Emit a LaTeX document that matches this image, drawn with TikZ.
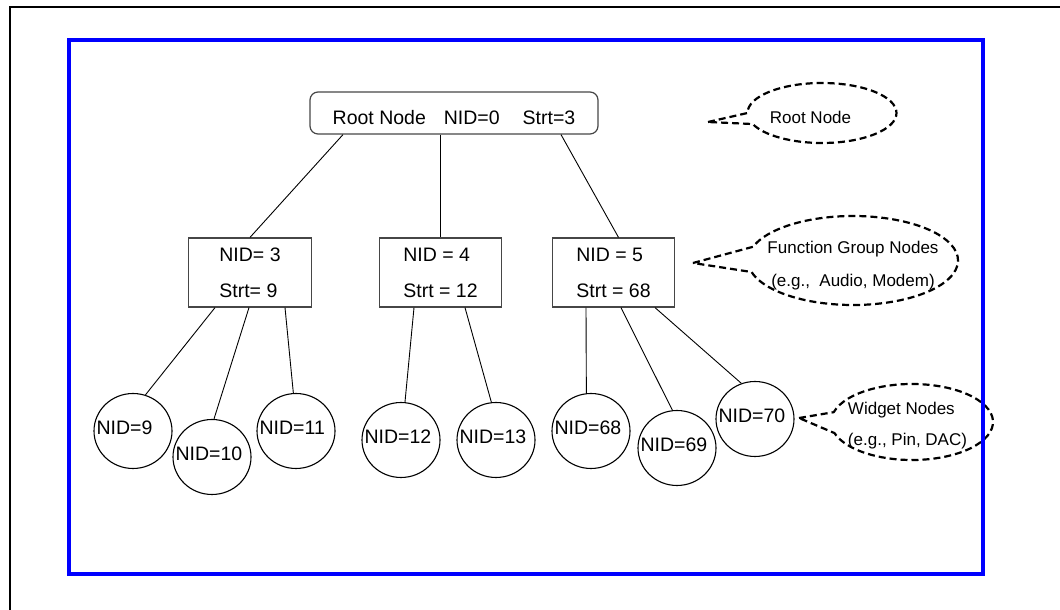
\documentclass[tikz,border=0pt]{standalone}
\usepackage{fontspec}
\setmainfont{Liberation Sans}
\usetikzlibrary{shapes.geometric}
\definecolor{frameblue}{RGB}{0,0,255}
\definecolor{boxgray}{RGB}{70,70,70}
\begin{document}
\begin{tikzpicture}[x=1pt,y=1pt,
  conn/.style={draw=black, line width=0.9pt},
  fbox/.style={draw=boxgray, line width=1.2pt, minimum width=122.5pt, minimum height=69pt, align=left, inner sep=0pt, font=\fontsize{19.5}{36}\selectfont},
  rootbox/.style={draw=boxgray, line width=1.2pt, rounded corners=8pt, minimum width=288pt, minimum height=42pt, inner sep=0pt, font=\fontsize{19.5}{24}\selectfont, text height=24pt, text depth=0pt},
  wid/.style={ellipse, draw=black, line width=1.1pt, minimum width=78pt, minimum height=75pt, inner sep=0pt},
  widtext/.style={anchor=west, inner sep=0pt, xshift=3pt, yshift=3pt, font=\fontsize{19.5}{24}\selectfont},
  callout/.style={draw=black, line width=2.2pt, dash pattern=on 7pt off 4pt, line join=round},
  ctext/.style={inner sep=0pt, font=\fontsize{17}{31}\selectfont},
]
\useasboundingbox (0,0) rectangle (1060,610);
\draw[line width=2.5pt] (10,0) -- (10,603) -- (1060,603);

% root
\node[rootbox] (root) at (454,497) {Root Node\hspace{18pt}NID=0\hspace{23pt}Strt=3};

% function group boxes
\node[fbox] (b1) at (250,337.5) {NID= 3\\Strt= 9};
\node[fbox] (b2) at (440.5,337.5) {NID = 4\\Strt = 12};
\node[fbox] (b3) at (613.5,337.5) {NID = 5\\Strt = 68};

% widget nodes
\node[wid] (c9) at (133,179) {};
\node[widtext] (t9) at (c9.west) {NID=9};
\node[wid] (c10) at (212,153) {};
\node[widtext] (t10) at (c10.west) {NID=10};
\node[wid] (c11) at (296,179) {};
\node[widtext] (t11) at (c11.west) {NID=11};
\node[wid] (c12) at (401,170) {};
\node[widtext] (t12) at (c12.west) {NID=12};
\node[wid] (c13) at (496,170) {};
\node[widtext] (t13) at (c13.west) {NID=13};
\node[wid] (c68) at (591,179) {};
\node[widtext] (t68) at (c68.west) {NID=68};
\node[wid] (c69) at (677,162) {};
\node[widtext] (t69) at (c69.west) {NID=69};
\node[wid] (c70) at (755,191) {};
\node[widtext] (t70) at (c70.west) {NID=70};

% connectors
\draw[conn] ([xshift=-111pt]root.south) -- (b1.north);
\draw[conn] (root.south -| b2.north) -- (b2.north);
\draw[conn] ([xshift=107pt]root.south) -- ([xshift=5pt]b3.north);

\draw[conn] ([xshift=-35pt]b1.south) -- (c9.71);
\draw[conn] ([xshift=-1pt]b1.south) -- (c10.87);
\draw[conn] ([xshift=35pt]b1.south) -- (c11.94);
\draw[conn] ([xshift=-26.5pt]b2.south) -- (c12.84);
\draw[conn] ([xshift=24.5pt]b2.south) -- (c13.97);
\draw[conn] ([xshift=-27.5pt]b3.south) -- (c68.97);
\draw[conn] ([xshift=7.5pt]b3.south) -- (c69.97);
\draw[conn] ([xshift=41.5pt]b3.south) -- (c70.111);

% callouts
\node[ctext] (rcn) at (810.5,493) {Root Node};
\coordinate (rctip) at (708,488);
\coordinate (rcc) at (822,497);
\draw[callout] (rctip) -- ([shift={(180:74.5 and 30)}]rcc)
  arc[start angle=180, end angle=-158.4, x radius=74.5, y radius=30] -- cycle;

\node[ctext, align=center, font=\fontsize{17}{33}\selectfont] (fgn) at (853,344.5) {Function Group Nodes\\(e.g.,\ \ Audio, Modem)};
\coordinate (fctip) at (693,347);
\coordinate (fcc) at (853,349.5);
\draw[callout] (fctip) -- ([shift={(162:105 and 44.5)}]fcc)
  arc[start angle=162, end angle=-165, x radius=105, y radius=44.5] -- cycle;

\node[ctext, align=left] (wgn) at (907.5,184) {Widget Nodes\\(e.g., Pin, DAC)};
\coordinate (wctip) at (799,192);
\coordinate (wcc) at (912,188);
\draw[callout] (wctip) -- ([shift={(165:81 and 38)}]wcc)
  arc[start angle=165, end angle=-163, x radius=81, y radius=38] -- cycle;

% blue frame
\draw[draw=frameblue, line width=4pt] (69,36) rectangle (983,570);
\end{tikzpicture}
\end{document}
